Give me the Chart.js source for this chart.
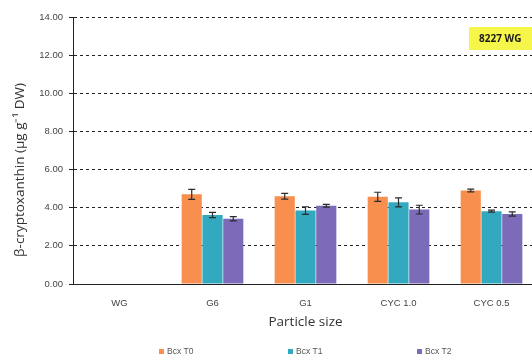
<!DOCTYPE html>
<html>
<head>
<meta charset="utf-8">
<script src="https://cdn.jsdelivr.net/npm/chart.js@4.4.1/dist/chart.umd.min.js"></script>
<style>
  html, body { margin: 0; padding: 0; background: #fff; overflow: hidden; }
  #wrap { position: relative; width: 545px; height: 360px; }
</style>
</head>
<body>
<div id="wrap"><canvas id="chart" width="545" height="360"></canvas></div>
<script>
// Particle-size fractions
const categories = ['WG', 'G6', 'G1', 'CYC 1.0', 'CYC 0.5'];

// β-cryptoxanthin means (µg g-1 DW) per sampling time
const bcxT0 = [null, 4.70, 4.60, 4.57, 4.90];
const bcxT1 = [null, 3.62, 3.85, 4.28, 3.82];
const bcxT2 = [null, 3.42, 4.10, 3.90, 3.67];

// Standard errors
const errT0 = [null, 0.26, 0.15, 0.24, 0.07];
const errT1 = [null, 0.14, 0.20, 0.24, 0.05];
const errT2 = [null, 0.11, 0.07, 0.23, 0.11];

const yTicks = [0, 2, 4, 6, 8, 10, 12, 14];

const seriesNames = ['Bcx T0', 'Bcx T1', 'Bcx T2'];
const seriesColors = ['#F98F4E', '#33A9C0', '#7C6BB9'];

const tickFont = "'Liberation Sans Narrow', 'Liberation Sans', 'DejaVu Sans', sans-serif";
const labelFont = "'Open Sans', 'Liberation Sans', sans-serif";

// Whisker overlay drawn on each bar from the error arrays
const errorBars = {
  id: 'errorBars',
  afterDatasetsDraw(chart) {
    const ctx = chart.ctx;
    const y = chart.scales.y;
    ctx.save();
    ctx.strokeStyle = '#2b2b2b';
    ctx.lineWidth = 1.2;
    chart.data.datasets.forEach((ds, di) => {
      const meta = chart.getDatasetMeta(di);
      meta.data.forEach((bar, i) => {
        const v = ds.data[i];
        const e = ds.errors[i];
        if (v == null || e == null) return;
        const x = bar.x;
        const yTop = y.getPixelForValue(v + e);
        const yBot = y.getPixelForValue(v - e);
        ctx.beginPath();
        ctx.moveTo(x, yTop); ctx.lineTo(x, yBot);
        ctx.moveTo(x - 3.5, yTop); ctx.lineTo(x + 3.5, yTop);
        ctx.moveTo(x - 3.5, yBot); ctx.lineTo(x + 3.5, yBot);
        ctx.stroke();
      });
    });
    ctx.restore();
  }
};

// Vertical axis title, bottom legend row and the cultivar tag
const extras = {
  id: 'extras',
  afterDraw(chart) {
    const ctx = chart.ctx;
    ctx.save();
    ctx.translate(20, 170);
    ctx.rotate(-Math.PI / 2);
    ctx.fillStyle = '#333';
    ctx.font = "13.5px " + labelFont;
    ctx.textAlign = 'center';
    ctx.textBaseline = 'middle';
    ctx.fillText('β-cryptoxanthin (µg g⁻¹ DW)', 0, 0);
    ctx.restore();

    // legend row
    ctx.save();
    const legendY = 352;
    const legendX = [159, 288, 417];
    ctx.font = "8.5px " + tickFont;
    ctx.textBaseline = 'middle';
    ctx.textAlign = 'left';
    chart.data.datasets.forEach((ds, k) => {
      const x = legendX[k];
      ctx.fillStyle = ds.backgroundColor;
      ctx.fillRect(x, legendY - 3, 5, 5);
      ctx.fillStyle = '#555';
      ctx.fillText(ds.label, x + 8, legendY);
    });
    ctx.restore();

    // cultivar tag
    ctx.save();
    const bx = 469, by = 27, bw = 80, bh = 23;
    ctx.fillStyle = '#F6F54A';
    ctx.fillRect(bx, by, bw, bh);
    ctx.fillStyle = '#1a1a1a';
    ctx.font = "bold 10px " + labelFont;
    ctx.textAlign = 'left';
    ctx.textBaseline = 'middle';
    ctx.fillText('8227 WG', bx + 10, by + bh / 2 + 0.5);
    ctx.restore();
  }
};

const datasets = [bcxT0, bcxT1, bcxT2].map((vals, k) => ({
  label: seriesNames[k],
  data: vals,
  errors: [errT0, errT1, errT2][k],
  backgroundColor: seriesColors[k],
  borderWidth: 0,
  categoryPercentage: 0.67,
  barPercentage: 0.97
}));

new Chart(document.getElementById('chart'), {
  type: 'bar',
  data: { labels: categories, datasets },
  options: {
    responsive: false,
    animation: false,
    layout: { padding: { left: 0, right: 7, top: 17, bottom: 30 } },
    plugins: {
      legend: { display: false },
      tooltip: { enabled: false }
    },
    scales: {
      x: {
        grid: { display: false },
        border: { display: true, color: '#222', width: 1 },
        ticks: { color: '#444', font: { size: 9.5, family: tickFont }, padding: 6 },
        title: {
          display: true,
          text: 'Particle size',
          color: '#333',
          font: { size: 13.5, family: labelFont },
          padding: { top: 4, bottom: 0 }
        },
        afterFit(scale) { scale.height = 46; }
      },
      y: {
        min: 0,
        max: 14,
        afterBuildTicks(scale) { scale.ticks = yTicks.map(v => ({ value: v })); },
        grid: {
          color: '#222',
          lineWidth: 1,
          drawTicks: true,
          tickLength: 4,
          tickBorderDash: [],
          tickColor: '#222'
        },
        border: { display: true, color: '#222', width: 1, dash: [3, 3] },
        ticks: {
          color: '#444',
          font: { size: 9.5, family: tickFont },
          padding: 6,
          callback: v => Number(v).toFixed(2)
        },
        afterFit(scale) { scale.width = 73; }
      }
    }
  },
  plugins: [errorBars, extras]
});
</script>
</body>
</html>
